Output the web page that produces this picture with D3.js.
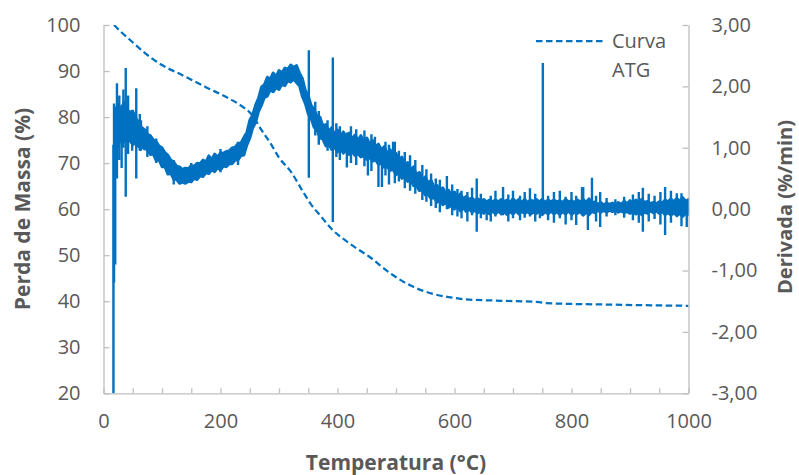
<!DOCTYPE html>
<html>
<head>
<meta charset="utf-8">
<script src="https://cdn.jsdelivr.net/npm/d3@7"></script>
<style>
  body { margin: 0; background: #fff; }
  text { font-family: "Open Sans", sans-serif; }
</style>
</head>
<body>
<svg id="chart" width="799" height="475"></svg>
<script>
// Axis tick values
const tempTicks = [0, 200, 400, 600, 800, 1000];
const tempMinorTicks = d3.range(0, 1001, 50);
const massTicks = [20, 30, 40, 50, 60, 70, 80, 90, 100];
const derivTicks = [-3, -2, -1, 0, 1, 2, 3];

// Thermogravimetric curve (mass %, left axis)
const atgTemp = [18, 30, 45, 70, 100, 135, 175, 215, 235, 255, 270, 285, 300, 320, 340, 355, 370, 390, 420, 455, 490, 525, 560, 590, 620, 680, 745, 755, 850, 1000];
const atgMass = [100.0, 98.5, 96.8, 94.0, 91.3, 89.1, 86.5, 84.0, 82.5, 80.3, 77.2, 74.4, 71.2, 68.2, 64.0, 61.0, 58.7, 55.7, 52.6, 49.6, 46.1, 43.4, 41.7, 40.9, 40.4, 40.1, 39.8, 39.6, 39.3, 39.0];

// Derivative signal (%/min, right axis): noise envelope sampled every 5 °C
const dtgTemp = d3.range(20, 1001, 5);
const dtgUpper = [
  1.62,1.70,1.60,1.75,1.62,1.58,1.60,1.48,1.42,1.33,
  1.30,1.22,1.20,1.13,1.10,1.03,1.00,0.92,0.88,0.80,
  0.77,0.70,0.69,0.65,0.67,0.66,0.71,0.70,0.75,0.74,
  0.80,0.77,0.87,0.81,0.90,0.85,0.92,0.91,0.94,0.95,
  1.00,1.01,1.07,1.08,1.17,1.25,1.45,1.54,1.70,1.81,
  1.99,2.03,2.15,2.12,2.22,2.16,2.26,2.22,2.30,2.28,
  2.35,2.31,2.34,2.22,2.13,1.94,1.85,1.69,1.63,1.51,
  1.50,1.36,1.38,1.27,1.33,1.22,1.29,1.19,1.26,1.17,
  1.24,1.15,1.21,1.12,1.20,1.09,1.16,1.06,1.12,1.02,
  1.06,0.97,1.02,0.91,0.97,0.86,0.91,0.80,0.85,0.73,
  0.76,0.65,0.69,0.56,0.60,0.48,0.53,0.43,0.47,0.36,
  0.39,0.30,0.35,0.26,0.31,0.22,0.28,0.19,0.25,0.17,
  0.21,0.16,0.18,0.14,0.17,0.13,0.16,0.12,0.15,0.12,
  0.15,0.12,0.16,0.13,0.15,0.11,0.17,0.12,0.16,0.11,
  0.16,0.11,0.15,0.13,0.16,0.12,0.16,0.11,0.15,0.12,
  0.15,0.12,0.14,0.11,0.16,0.12,0.14,0.11,0.15,0.12,
  0.16,0.11,0.17,0.10,0.12,0.08,0.11,0.07,0.10,0.08,
  0.10,0.07,0.11,0.08,0.13,0.09,0.14,0.10,0.15,0.11,
  0.16,0.11,0.13,0.09,0.11,0.09,0.12,0.10,0.15,0.12,
  0.17,0.12,0.18,0.13,0.19,0.13,0.16
];
const dtgLower = [
  0.98,1.02,1.18,1.10,1.15,1.12,1.05,1.08,1.02,1.03,
  0.98,0.97,0.89,0.90,0.79,0.80,0.69,0.69,0.57,0.58,
  0.49,0.48,0.42,0.44,0.42,0.45,0.45,0.50,0.48,0.54,
  0.53,0.59,0.58,0.64,0.61,0.67,0.64,0.70,0.69,0.74,
  0.74,0.80,0.80,0.87,0.88,1.04,1.15,1.32,1.41,1.59,
  1.69,1.82,1.84,1.94,1.91,1.98,1.95,2.03,2.01,2.09,
  2.07,2.12,2.06,2.01,1.83,1.72,1.55,1.47,1.33,1.29,
  1.16,1.14,1.03,1.06,0.97,1.01,0.93,0.98,0.91,0.96,
  0.89,0.93,0.87,0.90,0.85,0.87,0.81,0.84,0.78,0.80,
  0.73,0.74,0.68,0.69,0.63,0.65,0.56,0.59,0.50,0.52,
  0.45,0.47,0.38,0.38,0.30,0.31,0.23,0.24,0.17,0.19,
  0.11,0.15,0.07,0.11,0.03,0.07,0.00,0.05,-0.03,0.02,
  -0.04,0.00,-0.05,-0.02,-0.06,-0.03,-0.07,-0.03,-0.08,-0.03,
  -0.08,-0.03,-0.08,-0.04,-0.09,-0.04,-0.08,-0.03,-0.08,-0.04,
  -0.07,-0.04,-0.08,-0.05,-0.07,-0.04,-0.09,-0.04,-0.08,-0.03,
  -0.08,-0.04,-0.09,-0.04,-0.08,-0.03,-0.09,-0.05,-0.07,-0.04,
  -0.10,-0.05,-0.09,-0.04,-0.06,-0.02,-0.05,-0.02,-0.05,-0.02,
  -0.04,-0.02,-0.05,-0.03,-0.06,-0.04,-0.07,-0.04,-0.08,-0.04,
  -0.09,-0.05,-0.07,-0.03,-0.06,-0.03,-0.07,-0.04,-0.09,-0.06,
  -0.10,-0.06,-0.11,-0.07,-0.12,-0.07,-0.09
];

// Isolated excursions of the derivative signal: [temperature, min, max]
const dtgSpikes = [
  [17, -3.00, 1.05], [18, -1.20, 1.72], [20, -0.90, 1.50], [23, 0.50, 2.05], [27, 0.80, 1.85],
  [31, 0.67, 1.70], [34, 1.00, 1.95], [38, 0.20, 2.30], [42, 0.90, 1.85], [49, 0.95, 1.55],
  [56, 0.50, 1.97], [62, 0.95, 1.55], [64, 0.95, 1.45], [75, 0.85, 1.35], [90, 0.75, 1.15],
  [120, 0.40, 0.80], [150, 0.42, 0.75], [200, 0.60, 0.98], [230, 0.72, 1.10],
  [351, 0.51, 2.59], [362, 1.20, 1.75], [368, 1.05, 1.60], [383, 0.95, 1.45], [392, -0.21, 2.47],
  [398, 0.85, 1.40], [404, 0.80, 1.35], [416, 0.68, 1.25], [423, 0.75, 1.35], [432, 0.72, 1.30],
  [446, 0.70, 1.28], [452, 0.55, 1.15], [458, 0.62, 1.22], [464, 0.80, 1.18], [470, 0.36, 1.00],
  [476, 0.36, 1.00], [482, 0.55, 1.10], [488, 0.40, 1.05], [495, 0.65, 1.10], [498, 0.42, 1.10],
  [505, 0.45, 0.95], [515, 0.34, 0.93], [524, 0.30, 0.88], [533, 0.25, 0.80], [545, 0.15, 0.72],
  [552, 0.12, 0.65], [560, 0.05, 0.58], [568, 0.02, 0.50], [575, -0.05, 0.48], [587, 0.00, 0.54],
  [596, -0.10, 0.40], [605, -0.12, 0.33], [612, -0.15, 0.30], [622, -0.20, 0.28], [630, -0.10, 0.35],
  [638, -0.37, 0.50], [645, -0.15, 0.25], [655, -0.18, 0.15], [662, -0.20, 0.22], [670, -0.12, 0.30],
  [683, -0.10, 0.36], [692, -0.20, 0.24], [700, -0.15, 0.30], [712, -0.18, 0.22], [720, -0.14, 0.28],
  [729, -0.12, 0.34], [738, -0.20, 0.25], [746, -0.15, 0.10], [751, 0.00, 2.38], [760, -0.18, 0.22],
  [770, -0.22, 0.28], [780, -0.15, 0.30], [790, -0.25, 0.20], [800, -0.18, 0.28], [808, -0.26, 0.22],
  [818, -0.10, 0.36], [820, -0.05, 0.36], [828, -0.34, 0.10], [835, -0.05, 0.51], [842, -0.20, 0.22],
  [849, -0.29, 0.28], [860, -0.12, 0.18], [875, -0.10, 0.16], [890, -0.14, 0.20], [905, -0.18, 0.24],
  [915, -0.22, 0.28], [922, -0.37, 0.35], [932, -0.20, 0.25], [942, -0.16, 0.22], [952, -0.25, 0.28],
  [960, -0.42, 0.36], [970, -0.22, 0.30], [980, -0.05, 0.26], [988, -0.28, 0.26], [997, -0.29, 0.10]
];

const blue = "#0070C0";
const axisGray = "#BFBFBF";
const textGray = "#595959";

const svg = d3.select("#chart");
const x = d3.scaleLinear().domain([0, 1000]).range([103.5, 688.5]);
const yMass = d3.scaleLinear().domain([20, 100]).range([393.3, 25]);
const yDeriv = d3.scaleLinear().domain([-3, 3]).range([393.3, 25]);

const pt = d3.formatLocale({ decimal: ",", thousands: ".", grouping: [3], currency: ["", ""], minus: "-" });
const fmt2 = pt.format(".2f");

svg.append("defs").append("clipPath").attr("id", "plot")
  .append("rect").attr("x", 103.5).attr("y", 25).attr("width", 585).attr("height", 368.3);

// Axes
function styleAxis(g) {
  g.select(".domain").attr("stroke", axisGray).attr("stroke-width", 1.3);
  g.selectAll(".tick line").attr("stroke", axisGray).attr("stroke-width", 1.3);
  g.selectAll(".tick text").attr("fill", textGray).style("font-size", "20px").style("font-family", "'Open Sans', sans-serif");
}

svg.append("g").attr("transform", "translate(0,393.3)")
  .call(d3.axisBottom(x).tickValues(tempMinorTicks).tickSize(-5).tickSizeOuter(0).tickPadding(21)
    .tickFormat(d => tempTicks.includes(d) ? d : ""))
  .call(styleAxis);

svg.append("g").attr("transform", "translate(103.5,0)")
  .call(d3.axisLeft(yMass).tickValues(massTicks).tickSize(-6).tickSizeOuter(0).tickPadding(23))
  .call(styleAxis);

svg.append("g").attr("transform", "translate(688.5,0)")
  .call(d3.axisRight(yDeriv).tickValues(derivTicks).tickSize(-6).tickSizeOuter(0).tickPadding(23).tickFormat(fmt2))
  .call(styleAxis);

// Derivative curve
const plot = svg.append("g").attr("clip-path", "url(#plot)");
const band = d3.area()
  .x((d, i) => x(dtgTemp[i]))
  .y0((d, i) => yDeriv(dtgLower[i]))
  .y1((d, i) => yDeriv(dtgUpper[i]));
plot.append("path").datum(dtgTemp).attr("d", band)
  .attr("fill", blue).attr("stroke", blue).attr("stroke-width", 2.8).attr("stroke-linejoin", "round");

plot.selectAll("line.spike").data(dtgSpikes).join("line").attr("class", "spike")
  .attr("x1", d => x(d[0])).attr("x2", d => x(d[0]))
  .attr("y1", d => yDeriv(d[1])).attr("y2", d => yDeriv(d[2]))
  .attr("stroke", blue).attr("stroke-width", 2.4);

// Mass loss curve
const atgLine = d3.line().curve(d3.curveMonotoneX)
  .x((d, i) => x(atgTemp[i])).y((d, i) => yMass(atgMass[i]));
plot.append("path").datum(atgTemp).attr("d", atgLine)
  .attr("fill", "none").attr("stroke", blue).attr("stroke-width", 2.25).attr("stroke-dasharray", "6.5,3.5");

// Legend
svg.append("line").attr("x1", 536).attr("x2", 604).attr("y1", 41).attr("y2", 41)
  .attr("stroke", blue).attr("stroke-width", 2.25).attr("stroke-dasharray", "6.5,3.5");
const leg = svg.append("text").attr("fill", textGray).style("font-size", "20px");
leg.append("tspan").attr("x", 612).attr("y", 48).text("Curva");
leg.append("tspan").attr("x", 612).attr("y", 77).text("ATG");

// Axis titles
svg.append("text").attr("x", 396).attr("y", 470).attr("text-anchor", "middle")
  .attr("fill", textGray).style("font-size", "21px").style("font-weight", "bold").text("Temperatura (°C)");
svg.append("text").attr("transform", "translate(30,209) rotate(-90)").attr("text-anchor", "middle")
  .attr("fill", textGray).style("font-size", "21px").style("font-weight", "bold").text("Perda de Massa (%)");
svg.append("text").attr("transform", "translate(792,207) rotate(-90)").attr("text-anchor", "middle")
  .attr("fill", textGray).style("font-size", "20px").style("font-weight", "bold").text("Derivada (%/min)");
</script>
</body>
</html>
